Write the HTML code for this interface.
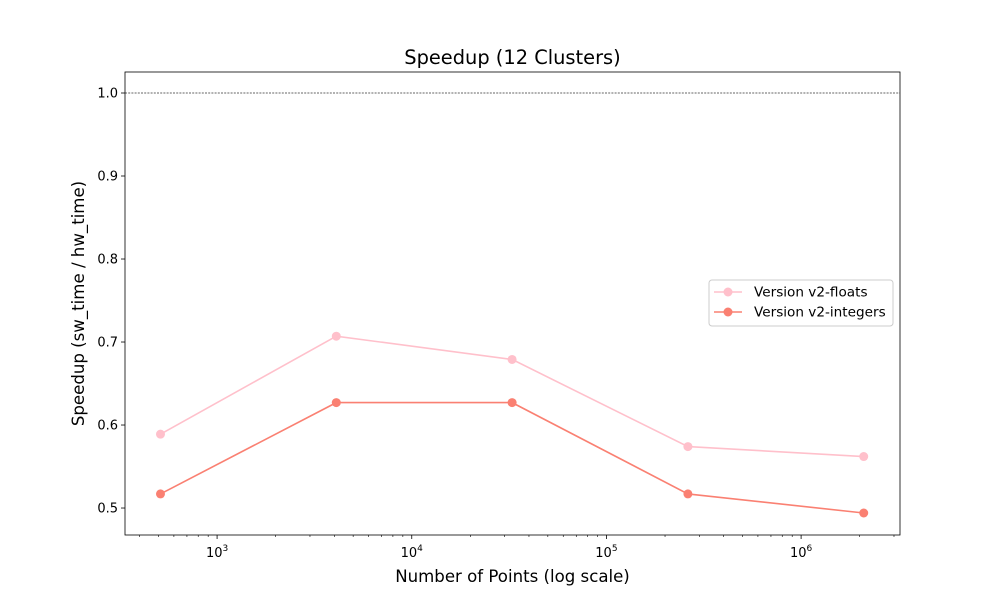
<!DOCTYPE html>
<html><head><meta charset="utf-8"><style>
body{margin:0;background:#fff;font-family:"Liberation Sans","DejaVu Sans",sans-serif;}
</style></head><body>
<svg id="chart" width="1000" height="600" xmlns="http://www.w3.org/2000/svg" font-family="DejaVu Sans, Liberation Sans, sans-serif"></svg>
<script>
const categories = [512, 4096, 32768, 262144, 2097152];
const floatsValues = [0.589, 0.707, 0.679, 0.574, 0.562];
const integersValues = [0.517, 0.627, 0.627, 0.517, 0.494];
const yTickLabels = ["0.5","0.6","0.7","0.8","0.9","1.0"];
const yTicks = [0.5,0.6,0.7,0.8,0.9,1.0];
const xDecades = [3,4,5,6];

const L=125,R=900,T=72,B=535;
const xMin=2.527,xMax=6.508,yMin=0.4675,yMax=1.0253;
const xs=v=>L+(Math.log10(v)-xMin)/(xMax-xMin)*(R-L);
const ys=v=>B-(v-yMin)/(yMax-yMin)*(B-T);
const svg=document.getElementById('chart');
const NS='http://www.w3.org/2000/svg';
function mk(tag,attrs,parent){const e=document.createElementNS(NS,tag);for(const k in attrs)e.setAttribute(k,attrs[k]);(parent||svg).appendChild(e);return e;}

let ref=mk('line',{x1:L,x2:R,y1:ys(1),y2:ys(1),stroke:'#333','stroke-width':0.7,'stroke-dasharray':'2,1.2'});



yTicks.forEach((v,i)=>{
  const y=ys(v);
  let t=mk('line',{x1:L-4,x2:L,y1:y,y2:y,stroke:'#000','stroke-width':0.8});
  
  
  let tx=mk('text',{x:L-7,y:y+4.5,'text-anchor':'end','font-size':13});
  tx.textContent=yTickLabels[i];
  
  
});
for(let d=2;d<=6;d++){
  for(let m=1;m<10;m++){
    const v=m*Math.pow(10,d);
    const lv=Math.log10(v);
    if(lv<xMin||lv>xMax)continue;
    const x=xs(v);
    const major=m===1;
    let t=mk('line',{x1:x,x2:x,y1:B,y2:B+(major?4:2),stroke:'#000','stroke-width':major?0.8:0.6});
    
    
  }
}
xDecades.forEach(d=>{
  const x=xs(Math.pow(10,d));
  let tx=mk('text',{x:x,y:B+22,'text-anchor':'middle','font-size':13});
  tx.innerHTML='10<tspan dy="-6" font-size="9">'+d+'</tspan>';
  
  
});

function series(vals,color,name){
  const g=mk('g',{});
  
  
  const pts=vals.map((v,i)=>xs(categories[i])+','+ys(v)).join(' ');
  let pl=mk('polyline',{points:pts,fill:'none',stroke:color,'stroke-width':1.6},g);
  
  
  vals.forEach((v,i)=>{
    let c=mk('circle',{cx:xs(categories[i]),cy:ys(v),r:4.5,fill:color},g);
    
    
  });
}
series(floatsValues,'#ffc0cb','series-v2-floats');
series(integersValues,'#fa8072','series-v2-integers');

let fr=mk('rect',{x:L,y:T,width:R-L,height:B-T,fill:'none',stroke:'#000','stroke-width':0.8});



let title=mk('text',{x:(L+R)/2,y:64,'text-anchor':'middle','font-size':19.4});
title.textContent='Speedup (12 Clusters)';


let xt=mk('text',{x:(L+R)/2,y:582,'text-anchor':'middle','font-size':16.6});
xt.textContent='Number of Points (log scale)';


let yt=mk('text',{x:0,y:0,'text-anchor':'middle','font-size':16.6,transform:'translate(84,'+((T+B)/2)+') rotate(-90)'});
yt.textContent='Speedup (sw_time / hw_time)';



const lg=mk('g',{});


mk('rect',{x:709,y:280,width:184,height:46,rx:3,fill:'#fff',stroke:'#ccc','stroke-width':1},lg);
[['Version v2-floats','#ffc0cb',292],['Version v2-integers','#fa8072',312]].forEach(([lbl,c,y])=>{
  const e=mk('g',{},lg);
  
  
  mk('line',{x1:714,x2:742,y1:y,y2:y,stroke:c,'stroke-width':1.6},e);
  mk('circle',{cx:728,cy:y,r:4.5,fill:c},e);
  const t=mk('text',{x:754,y:y+4.5,'font-size':13.6},e);
  t.textContent=lbl;
});
</script>
</body></html>
